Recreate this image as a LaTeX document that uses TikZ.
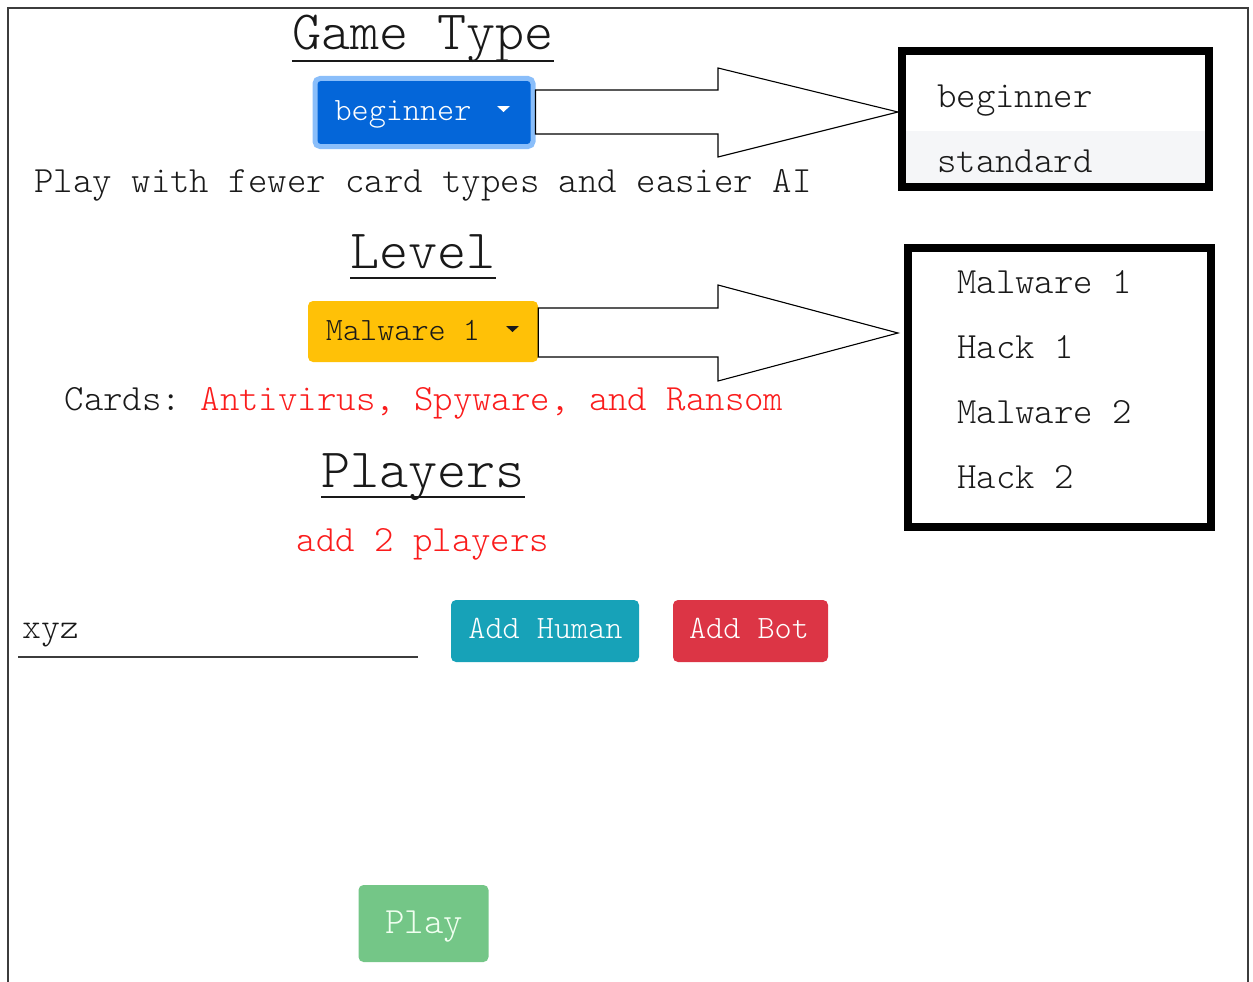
\documentclass[tikz,border=0pt]{standalone}
\usepackage{fontspec}
\usetikzlibrary{calc}

\definecolor{ink}{RGB}{25,25,25}
\definecolor{alertred}{RGB}{250,28,28}
\definecolor{btnblue}{RGB}{4,102,217}
\definecolor{btnglow}{RGB}{138,190,250}
\definecolor{btnyellow}{RGB}{255,193,7}
\definecolor{btnteal}{RGB}{23,162,184}
\definecolor{btnred}{RGB}{220,53,69}
\definecolor{btngreen}{RGB}{116,198,135}
\definecolor{band}{RGB}{245,246,248}
\definecolor{framegray}{RGB}{60,60,60}

% light typewriter face at a given pixel size, uniform word spacing
\newcommand\mono[1]{\fontsize{#1}{#1}\ttfamily\fontseries{l}\selectfont\frenchspacing}

\tikzset{
  heading/.style={inner sep=0pt, anchor=base, text=ink, font=\mono{55.4}},
  body/.style={inner sep=0pt, anchor=base, text=ink, font=\mono{37}},
  btnlabel/.style={inner sep=0pt, anchor=base, font=\mono{32.6}},
  button/.style={rounded corners=5pt, inner sep=0pt, draw=none},
  listbox/.style={draw=black, line width=8pt, inner sep=0pt, fill=none},
  item/.style={inner sep=0pt, anchor=base west, text=ink, font=\mono{37}},
  blockarrow/.style={draw=black, line width=1.1pt, fill=white, line join=miter},
  caret/.style={fill=#1, draw=none},
  uline/.style={draw=ink, line width=1.6pt},
}

\begin{document}
\begin{tikzpicture}[x=1pt, y=-1pt]
\useasboundingbox (0,0) rectangle (1253,982);

% page frame (open at the bottom)
\draw[framegray, line width=1.6pt] (8,982) -- (8,8) -- (1248,8) -- (1248,982);

% ---- Game type ----
\node[heading] (gtitle) at (423,50) {Game Type};
\draw[uline] ($(gtitle.base west)+(0,11)$) -- ($(gtitle.base east)+(0,11)$);

\node[button, fill=btnblue, draw=btnglow, line width=5pt,
      minimum width=218pt, minimum height=68pt] (btnA) at (424,112.5) {};
\node[btnlabel, text=white] (btnAtext) at (403,120) {beginner};
\fill[caret=white] (497,106) -- (510,106) -- (503.5,112) -- cycle;

\node[body] (gdesc) at (423,192) {Play with fewer card types and easier AI};

% game type list
\fill[band] (906,131) rectangle (1205,183);
\draw[blockarrow] (btnA.east |- 0,90) -- (718,90) -- (718,68) -- (898,112)
   -- (718,157) -- (718,134) -- (btnA.east |- 0,134) -- cycle;
\node[listbox, minimum width=307pt, minimum height=136pt] (ddA) at (1055.5,119) {};
\node[item] (ddA1) at (937,107) {beginner};
\node[item] (ddA2) at (937,172) {standard};

% ---- Level ----
\node[heading] (ltitle) at (423,268) {Level};
\draw[uline] ($(ltitle.base west)+(0,10)$) -- ($(ltitle.base east)+(0,10)$);

\node[button, fill=btnyellow, minimum width=230pt, minimum height=61pt] (btnB) at (423,331.5) {};
\node[btnlabel, text=ink] (btnBtext) at (403,340) {Malware 1};
\fill[caret=ink] (506,326) -- (519,326) -- (512.5,332) -- cycle;

\node[body] (cards) at (424,410) {Cards: {\color{alertred}Antivirus, Spyware, and Ransom}};

% level list
\draw[blockarrow] (btnB.east |- 0,308) -- (718,308) -- (718,285) -- (898,333)
   -- (718,381) -- (718,357) -- (btnB.east |- 0,357) -- cycle;
\node[listbox, minimum width=303pt, minimum height=279pt] (ddB) at (1059.5,387.5) {};
\node[item] (ddB1) at (957,293) {Malware 1};
\node[item] (ddB2) at (957,358) {Hack 1};
\node[item] (ddB3) at (957,423) {Malware 2};
\node[item] (ddB4) at (957,488) {Hack 2};

% ---- Players ----
\node[heading] (ptitle) at (423,487) {Players};
\draw[uline] ($(ptitle.base west)+(0,10)$) -- ($(ptitle.base east)+(0,10)$);

\node[body, text=alertred] (hint) at (423,551) {add 2 players};

% name input
\node[inner sep=0pt, anchor=base west, text=ink, font=\mono{36}] (name) at (22,638) {xyz};
\coordinate (inL) at (18,657);
\coordinate (inR) at (418,657);
\draw[draw=framegray, line width=2pt] (inL) -- (inR);

\node[button, fill=btnteal, minimum width=188pt, minimum height=62pt] (human) at (545,631) {};
\node[btnlabel, text=white] (humantext) at (545.5,638) {Add Human};
\node[button, fill=btnred, minimum width=155pt, minimum height=62pt] (bot) at (750.5,631) {};
\node[btnlabel, text=white] (bottext) at (749,638) {Add Bot};

% play
\node[button, fill=btngreen, minimum width=130pt, minimum height=77pt] (play) at (423.5,923.5) {};
\node[body, text=white!94!green] (playtext) at (424,933) {Play};

\end{tikzpicture}
\end{document}
